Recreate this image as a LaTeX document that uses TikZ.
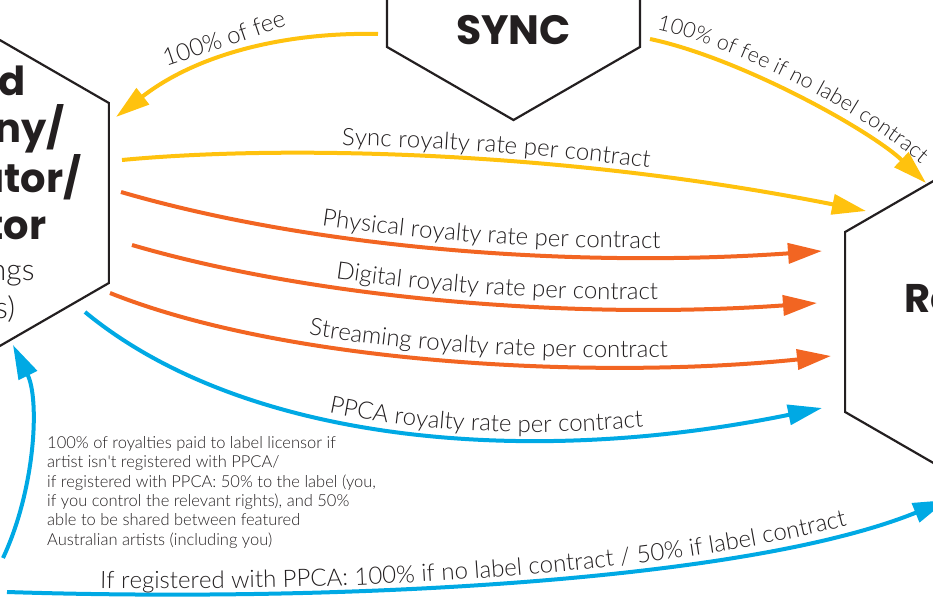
\documentclass[tikz,border=0pt]{standalone}
\usepackage{fontspec}
\setmainfont{Lato}
\newfontfamily\headfont{Poppins}
\newfontfamily\thinfont{Lato Light}
\usetikzlibrary{arrows.meta, decorations.text}

\definecolor{ink}{HTML}{231F20}
\definecolor{syncyellow}{HTML}{FFC20E}
\definecolor{royorange}{HTML}{F26522}
\definecolor{ppcablue}{HTML}{00A9E4}

\newcommand{\labelfont}{\thinfont\fontsize{24}{28}\selectfont}
\newcommand{\smalllabelfont}{\thinfont\fontsize{21.5}{26}\selectfont}

\tikzset{
  along/.style 2 args={postaction={decorate},
    decoration={text along path, text={|\labelfont\color{ink}|#2},
      text align={left, left indent=#1}, raise=9pt}},
}

\begin{document}
\begin{tikzpicture}[x=1pt, y=-1pt]
\tikzstyle{hexline} = [draw=ink, line width=2.2pt, line join=miter]
\tikzstyle{flow} = [line width=4pt, -{Triangle[length=34pt,width=20pt]}]
\tikzstyle{head} = [font=\headfont\bfseries, text=ink, inner sep=0pt]

\useasboundingbox (0,0) rectangle (933,604);
\clip (0,0) rectangle (933,604);

% hexagons (centres)
\coordinate (label) at (-47,193);
\coordinate (sync) at (513.5,-26);
\coordinate (artist) at (1001,322);
\draw[hexline] (label) +(30:180) -- +(90:180) -- +(150:180) -- +(210:180) -- +(270:180) -- +(330:180) -- cycle;
\draw[hexline] (sync) +(30:146) -- +(90:146) -- +(150:146) -- +(210:146) -- +(270:146) -- +(330:146) -- cycle;
\draw[hexline] (artist) +(30:180) -- +(90:180) -- +(150:180) -- +(210:180) -- +(270:180) -- +(330:180) -- cycle;

\node[head, font=\headfont\bfseries\fontsize{41}{48}\selectfont] (synctxt) at (513.5,30) {SYNC};
\node[head, font=\headfont\bfseries\fontsize{40}{47}\selectfont, align=center, anchor=north] (labeltxt) at (-47,66) {Record\\Company/\\Aggregator/\\Operator};
\node[head, font=\thinfont\fontsize{30}{38}\selectfont, align=center, anchor=north] (labelsub) at (-36,257) {(recordings\\owners)};
\node[head, font=\headfont\bfseries\fontsize{40}{47}\selectfont, anchor=base west] (artisttxt) at (904,312) {Recording artist};

% connector ends
\coordinate (feeS) at (378,34);    \coordinate (feeE) at (116,117);
\coordinate (nolabS) at (650,39);  \coordinate (nolabE) at (926,183);
\coordinate (syncS) at (122,160);  \coordinate (syncE) at (866,211);
\coordinate (physS) at (121,192);  \coordinate (physE) at (822,251);
\coordinate (digiS) at (132,245);  \coordinate (digiE) at (817,303);
\coordinate (strmS) at (110,293);  \coordinate (strmE) at (831,356);
\coordinate (ppcaS) at (85,312);   \coordinate (ppcaE) at (822,408);
\coordinate (backS) at (3,558);    \coordinate (backE) at (13,345);
\coordinate (regS) at (7,592);     \coordinate (regE) at (947,500);

% sync fees
\draw[flow, draw=syncyellow] (feeS) .. controls (290,32) and (200,52) .. (feeE)
  node[pos=0.56, sloped, above=4pt, font=\labelfont, text=ink] (feelbl) {100\% of fee};
\draw[flow, draw=syncyellow, along={4pt}{100{\%} of fee if no label contract},
  decoration={raise=11pt, text={|\smalllabelfont\color{ink}|100{\%} of fee if no label contract}}]
  (nolabS) .. controls (740,58) and (870,130) .. (nolabE);
\draw[flow, draw=syncyellow, along={220pt}{Sync royalty rate per contract}, decoration={raise=8pt}]
  (syncS) .. controls (280,145) and (560,150) .. (syncE);

% label royalties
\draw[flow, draw=royorange, along={204pt}{Physical royalty rate per contract}]
  (physS) .. controls (320,250) and (580,268) .. (physE);
\draw[flow, draw=royorange, along={207pt}{Digital royalty rate per contract}]
  (digiS) .. controls (320,300) and (580,320) .. (digiE);
\draw[flow, draw=royorange, along={204pt}{Streaming royalty rate per contract}]
  (strmS) .. controls (290,365) and (600,380) .. (strmE);

% PPCA
\draw[flow, draw=ppcablue, along={268pt}{PPCA royalty rate per contract}, decoration={raise=7pt}]
  (ppcaS) .. controls (240,440) and (520,470) .. (ppcaE);
\draw[flow, draw=ppcablue] (backS) .. controls (35,490) and (40,400) .. (backE);
\draw[flow, draw=ppcablue, along={93pt}{If registered with PPCA: 100{\%} if no label contract / 50{\%} if label contract}, decoration={raise=6pt}]
  (regS) .. controls (350,603) and (750,580) .. (regE);

\node[anchor=north west, align=left, inner sep=0pt, text=ink, font=\thinfont\fontsize{16.5}{19.4}\selectfont] (ppcanote) at (47,436)
  {100\% of royalties paid to label licensor if\\artist isn\textquotesingle t registered with PPCA/\\if registered with PPCA: 50\% to the label (you,\\if you control the relevant rights), and 50\%\\able to be shared between featured\\Australian artists (including you)};
\end{tikzpicture}
\end{document}
